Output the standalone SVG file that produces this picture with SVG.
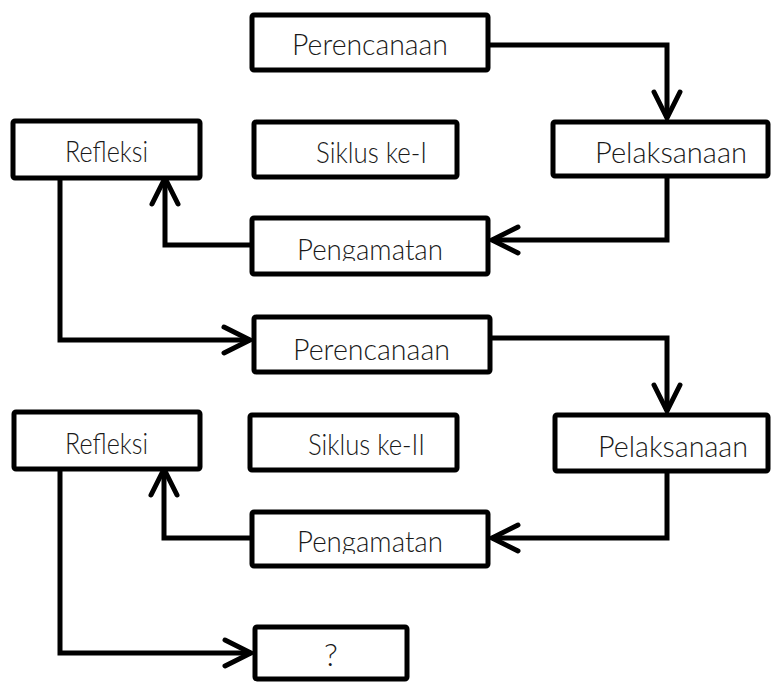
<svg xmlns="http://www.w3.org/2000/svg" width="780" height="683" viewBox="0 0 780 683">
<style>
.box{fill:#fff;stroke:#000;stroke-width:5;stroke-linejoin:round}
.lbl{font-family:Lato,"Liberation Sans",sans-serif;font-weight:300;font-size:30px;fill:#1a1a1a;text-anchor:middle}
.con{fill:none;stroke:#000;stroke-width:5;stroke-linejoin:miter;marker-end:url(#arr)}
</style>
<defs>
<marker id="arr" markerUnits="userSpaceOnUse" markerWidth="40" markerHeight="40" refX="0" refY="0" viewBox="-32 -20 40 40" orient="auto" overflow="visible">
<path d="M-26,-13 L0,0 L-26,13" fill="none" stroke="#000" stroke-width="5" stroke-linecap="round" stroke-linejoin="miter"/>
</marker>
<clipPath id="c1"><rect x="252" y="218" width="236" height="43"/></clipPath>
<clipPath id="c2"><rect x="252" y="512" width="236" height="42"/></clipPath>
</defs>
<g id="connectors">
<polyline class="con" points="490,45 667,45 667,118"/>
<polyline class="con" points="667,178 667,240 492,240"/>
<polyline class="con" points="250,245 165,245 165,178"/>
<polyline class="con" points="60,180 60,340 250,340"/>
<polyline class="con" points="492,338 667,338 667,411"/>
<polyline class="con" points="667,473 667,538 492,538"/>
<polyline class="con" points="250,538 164,538 164,469"/>
<polyline class="con" points="60,471 60,653 251,653"/>
</g>
<g id="perencanaan1"><rect class="box" x="252" y="15" width="236" height="55" rx="2"/><text class="lbl" x="370" y="55" textLength="156" lengthAdjust="spacingAndGlyphs">Perencanaan</text></g>
<g id="refleksi1"><rect class="box" x="13" y="121" width="187" height="57" rx="2"/><text class="lbl" x="106.5" y="162" textLength="83" lengthAdjust="spacingAndGlyphs">Refleksi</text></g>
<g id="siklus1"><rect class="box" x="254" y="122" width="203" height="55" rx="2"/><text class="lbl" x="371.5" y="163" textLength="111" lengthAdjust="spacingAndGlyphs">Siklus ke-I</text></g>
<g id="pelaksanaan1"><rect class="box" x="553" y="122" width="215" height="54" rx="2"/><text class="lbl" x="671" y="163" textLength="152" lengthAdjust="spacingAndGlyphs">Pelaksanaan</text></g>
<g id="pengamatan1"><rect class="box" x="252" y="218" width="236" height="56" rx="2"/><text class="lbl" x="370" y="260" textLength="146" lengthAdjust="spacingAndGlyphs" clip-path="url(#c1)">Pengamatan</text></g>
<g id="perencanaan2"><rect class="box" x="254" y="317" width="236" height="55" rx="2"/><text class="lbl" x="371.5" y="360" textLength="157" lengthAdjust="spacingAndGlyphs">Perencanaan</text></g>
<g id="refleksi2"><rect class="box" x="14" y="412" width="186" height="57" rx="2"/><text class="lbl" x="106.5" y="454" textLength="83" lengthAdjust="spacingAndGlyphs">Refleksi</text></g>
<g id="siklus2"><rect class="box" x="250" y="415" width="207" height="55" rx="2"/><text class="lbl" x="366.5" y="455" textLength="117" lengthAdjust="spacingAndGlyphs">Siklus ke-II</text></g>
<g id="pelaksanaan2"><rect class="box" x="555" y="415" width="213" height="56" rx="2"/><text class="lbl" x="673" y="457" textLength="150" lengthAdjust="spacingAndGlyphs">Pelaksanaan</text></g>
<g id="pengamatan2"><rect class="box" x="252" y="512" width="236" height="54" rx="2"/><text class="lbl" x="370" y="552" textLength="146" lengthAdjust="spacingAndGlyphs" clip-path="url(#c2)">Pengamatan</text></g>
<g id="tanya"><rect class="box" x="255" y="627" width="152" height="52" rx="2"/><text class="lbl" x="331" y="666" style="font-size:32px">?</text></g>
</svg>
